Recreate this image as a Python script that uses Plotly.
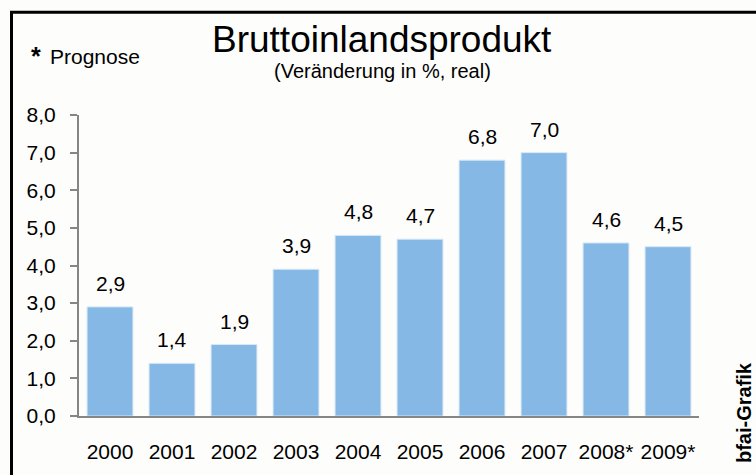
import plotly.graph_objects as go

years = ["2000", "2001", "2002", "2003", "2004", "2005", "2006", "2007", "2008*", "2009*"]
values = [2.9, 1.4, 1.9, 3.9, 4.8, 4.7, 6.8, 7.0, 4.6, 4.5]
y_ticks = [0, 1, 2, 3, 4, 5, 6, 7, 8]

W, H = 756, 475
L, R, T, B = 79, 699, 115, 419

def px_x(p):
    return (p - L) / (R - L)

def px_y(p):
    return (B - p) / (B - T)

font = "Liberation Sans, Arial, sans-serif"
axis_grey = "#868686"

fig = go.Figure()
fig.add_trace(go.Bar(
    x=years, y=values,
    marker=dict(color="#86B8E6", line=dict(color="#D6E8F7", width=1)),
    width=0.74,
    hoverinfo="x+y",
))

# value labels above bars (category index positions)
for i, v in enumerate(values):
    fig.add_annotation(x=i, y=v, text=f"{v:.1f}".replace(".", ","),
                       xref="x", yref="y", xanchor="center", yanchor="bottom",
                       yshift=10, showarrow=False,
                       font=dict(family=font, size=21, color="#000000"))

fig.update_layout(
    width=W, height=H,
    margin=dict(l=L, r=W - R, t=T, b=H - B, pad=0),
    paper_bgcolor="#FDFDFB", plot_bgcolor="#FDFDFB",
    separators=",.",
    showlegend=False,
    bargap=0.26,
    font=dict(family=font, color="#000000"),
    xaxis=dict(
        type="category", categoryorder="array", categoryarray=years,
        range=[-0.5, len(years) - 0.5],
        showline=True, linecolor=axis_grey, linewidth=2,
        ticks="", tickfont=dict(family=font, size=21, color="#000000"),
        ticklabelstandoff=16,
        showgrid=False, zeroline=False,
    ),
    yaxis=dict(
        range=[0, 8], tickvals=y_ticks, tickformat=".1f",
        showline=True, linecolor=axis_grey, linewidth=2,
        ticks="outside", ticklen=7, tickcolor=axis_grey, tickwidth=2,
        tickfont=dict(family=font, size=21, color="#000000"),
        ticklabelstandoff=10,
        showgrid=False, zeroline=False,
    ),
)

# frame (top and left edges of the original box)
fig.add_shape(type="line", xref="paper", yref="paper",
              x0=px_x(10), x1=px_x(770), y0=px_y(11.3), y1=px_y(11.3),
              line=dict(color="#000000", width=3))
fig.add_shape(type="line", xref="paper", yref="paper",
              x0=px_x(11.5), x1=px_x(11.5), y0=px_y(10), y1=px_y(490),
              line=dict(color="#000000", width=3))
# axis overhang on the left
fig.add_shape(type="line", xref="paper", yref="paper",
              x0=px_x(72), x1=0, y0=0, y1=0,
              line=dict(color=axis_grey, width=2))

def label(text, x, y, size, xanchor="center", angle=0):
    fig.add_annotation(text=text, xref="paper", yref="paper",
                       x=px_x(x), y=px_y(y), xanchor=xanchor, yanchor="middle",
                       textangle=angle, showarrow=False,
                       font=dict(family=font, size=size, color="#000000"))

label("Bruttoinlandsprodukt", 382, 39, 37)
label("(Veränderung in %, real)", 382, 71, 20)
label("<b>*</b>", 29, 55, 25, xanchor="left")
label("Prognose", 48, 56, 21, xanchor="left")
label("<b>bfai-Grafik</b>", 744, 416, 20, angle=-90)

fig.write_html("out.html", config={"displayModeBar": False},
               post_script="document.body.style.margin='0';document.body.style.overflow='hidden';")
